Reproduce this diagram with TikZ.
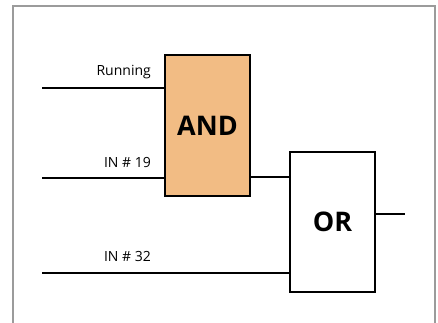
\documentclass[tikz,border=0pt]{standalone}
\usepackage{fontspec}
\setmainfont{Open Sans}
\definecolor{andfill}{RGB}{242,188,132}
\definecolor{framegray}{RGB}{155,155,155}
\begin{document}
\begin{tikzpicture}[x=1pt,y=-1pt,
  gatebox/.style={draw, line width=2pt, minimum width=85pt, minimum height=140pt, inner sep=0pt, font=\fontsize{27}{29}\selectfont\bfseries},
  wire/.style={line width=2pt},
  sig/.style={anchor=base east, inner sep=0pt, font=\fontsize{14}{16}\selectfont}]
\useasboundingbox (0,0) rectangle (438,323);
\draw[framegray, line width=1.2pt] (13,330) -- (13,6) -- (435,6) -- (435,330);

\node[gatebox, fill=andfill] (andg) at (207.5,125.5) {AND};
\node[gatebox, fill=white] (org) at (332.5,222) {OR};

\coordinate (in1) at (42,88);
\coordinate (in2) at (42,178);
\coordinate (in3) at (42,273);
\coordinate (out) at (405,214);

\node[sig] (l1) at (151,76) {Running};
\node[sig] (l2) at (151,167) {IN \# 19};
\node[sig] (l3) at (151,261) {IN \# 32};

\draw[wire] (in1) -- (in1 -| andg.west);
\draw[wire] (in2) -- (in2 -| andg.west);
\draw[wire] (andg.east |- 0,177) -- (org.west |- 0,177);
\draw[wire] (in3) -- (in3 -| org.west);
\draw[wire] (out -| org.east) -- (out);
\end{tikzpicture}
\end{document}
